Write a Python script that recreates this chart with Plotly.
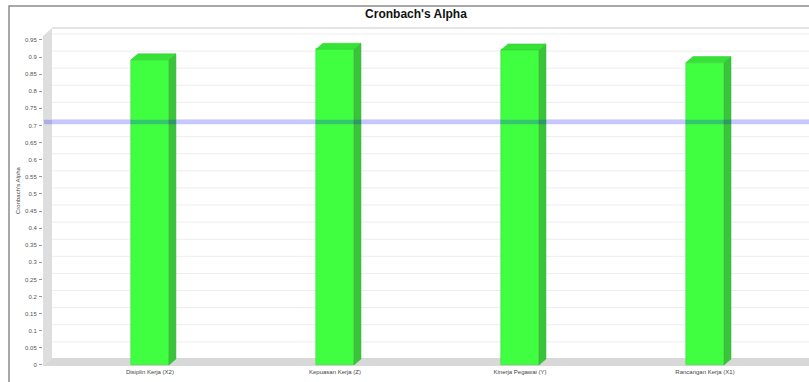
import plotly.graph_objects as go

categories = ["Disiplin Kerja (X2)", "Kepuasan Kerja (Z)", "Kinerja Pegawai (Y)", "Rancangan Kerja (X1)"]
alpha_values = [0.892, 0.923, 0.921, 0.884]
threshold = 0.7
y_ticks = [round(0.05 * i, 2) for i in range(20)]

W, H = 809, 382
L, R, T, B = 43, 0, 28, 16
pw, ph = W - L - R, H - T - B
x_rng = [-0.578, 3.562]
y_rng = [-0.003, 0.985]
px_x = pw / (x_rng[1] - x_rng[0])
px_y = ph / (y_rng[1] - y_rng[0])

bw = 38 / px_x          # front width
dx = 7 / px_x           # 3D depth offset
dy = 6 / px_y
xs = list(range(len(categories)))

front = "rgb(64,255,64)"
side = "rgb(58,196,58)"
top = "rgb(54,226,54)"

fig = go.Figure()

# side and top faces of 3D bars
sx, sy, tx, ty = [], [], [], []
for c, v in zip(xs, alpha_values):
    h = bw / 2
    sx += [c + h, c + h + dx, c + h + dx, c + h, c + h, None]
    sy += [0, dy, v + dy, v, 0, None]
    tx += [c - h, c - h + dx, c + h + dx, c + h, c - h, None]
    ty += [v, v + dy, v + dy, v, v, None]
fig.add_trace(go.Scatter(x=sx, y=sy, fill="toself", fillcolor=side, mode="lines",
                         line=dict(color="rgb(50,180,50)", width=0.5), hoverinfo="skip", showlegend=False))
fig.add_trace(go.Scatter(x=tx, y=ty, fill="toself", fillcolor=top, mode="lines",
                         line=dict(color="rgb(50,200,50)", width=0.5), hoverinfo="skip", showlegend=False))
fig.add_trace(go.Bar(x=xs, y=alpha_values, width=bw, marker=dict(color=front, line=dict(color="rgb(52,210,52)", width=0.5)),
                     showlegend=False))

shapes = []
fx = lambda p: (p - L) / pw   # pixel -> paper x
fy = lambda p: (H - B - p) / ph  # pixel -> paper y
wall_x = fx(52)
# gridlines on back wall
for v in y_ticks[1:]:
    shapes.append(dict(type="line", xref="paper", yref="y", x0=wall_x, x1=1, y0=v + dy, y1=v + dy,
                       line=dict(color="#ededed", width=1), layer="below"))
# back wall top border
shapes.append(dict(type="line", xref="paper", yref="paper", x0=wall_x, x1=1, y0=1, y1=1,
                   line=dict(color="#dddddd", width=1.5), layer="below"))
# left wall
shapes.append(dict(type="path", xref="paper", yref="paper",
                   path=f"M {fx(43)} {fy(366)} L {fx(43)} {fy(36)} L {fx(52)} {fy(28)} L {fx(52)} {fy(358)} Z",
                   fillcolor="#dedede", line=dict(width=0), layer="below"))
# floor
shapes.append(dict(type="path", xref="paper", yref="paper",
                   path=f"M {fx(43)} {fy(366)} L {fx(52)} {fy(358)} L 1 {fy(358)} L 1 {fy(366)} Z",
                   fillcolor="#d8d8d8", line=dict(width=0), layer="below"))
# threshold marker
shapes.append(dict(type="line", xref="paper", yref="y", x0=fx(44), x1=1, y0=threshold + dy * 0.6, y1=threshold + dy * 0.6,
                   line=dict(color="rgba(0,0,255,0.22)", width=4.5), layer="above"))
# outer border
shapes.append(dict(type="path", xref="paper", yref="paper",
                   path=f"M {fx(9)} {fy(383)} L {fx(9)} {fy(6)} L {fx(812)} {fy(6)}",
                   line=dict(color="#8c8c8c", width=1.5)))

fig.update_layout(
    width=W, height=H,
    margin=dict(l=L, r=R, t=T, b=B, pad=0),
    paper_bgcolor="white", plot_bgcolor="white",
    shapes=shapes,
    title=dict(text="<b>Cronbach's Alpha</b>", x=416 / W, xref="container", xanchor="center",
               y=1 - 14 / H, yref="container", yanchor="middle",
               font=dict(family="Liberation Sans, Arial", size=12, color="#111")),
    xaxis=dict(range=x_rng, tickvals=xs, ticktext=categories, showgrid=False, zeroline=False,
               showline=False, ticks="", tickfont=dict(family="Liberation Sans, Arial", size=6, color="#444"),
               ticklabelstandoff=1),
    yaxis=dict(range=y_rng, tickvals=y_ticks, ticktext=[f"{v:g}" for v in y_ticks], showgrid=False,
               zeroline=False, showline=False, ticks="outside", ticklen=3, tickcolor="#999",
               tickfont=dict(family="Liberation Sans, Arial", size=6, color="#555"), ticklabelstandoff=1),
    annotations=[dict(text="Cronbach's Alpha", xref="paper", yref="paper", x=fx(18), y=fy(190),
                      xanchor="center", yanchor="middle",
                      textangle=-90, showarrow=False, font=dict(family="Liberation Sans, Arial", size=6, color="#444"))],
    bargap=0,
)

fig.write_html("out.html")
